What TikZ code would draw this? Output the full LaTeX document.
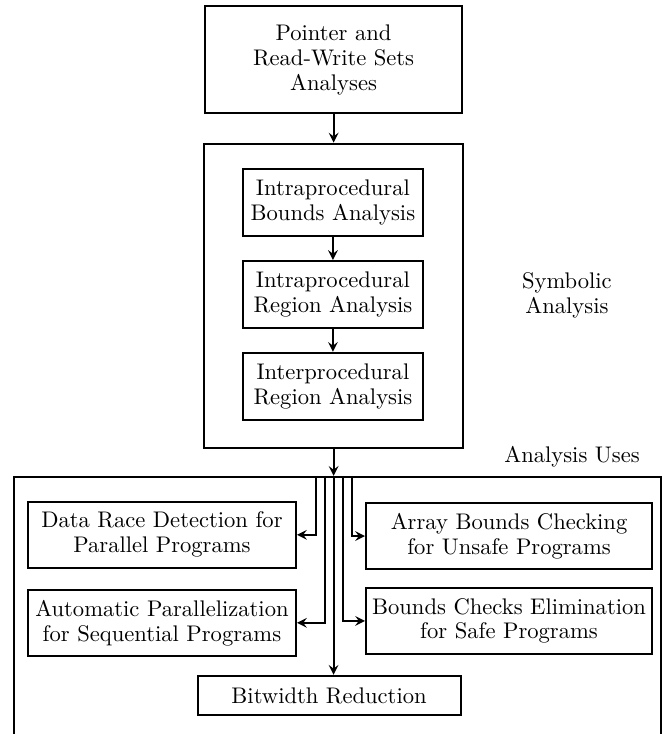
\documentclass[tikz,border=0pt]{standalone}
\usepackage{tikz}
\usetikzlibrary{positioning}

\begin{document}
\begin{tikzpicture}[node distance=1.43cm, >=stealth, line width=0.9pt]
  \tikzstyle{block}=[rectangle, draw, align=center, inner sep=2pt, font=\fontsize{10}{11}\selectfont]
  \tikzstyle{stage}=[block, minimum width=2.79cm, minimum height=1.04cm]
  \tikzstyle{client}=[block, minimum height=1.03cm]
  \tikzstyle{caption}=[align=center, font=\fontsize{10}{11}\selectfont]
  \clip (0,0) rectangle (10.38,-11.42);
  \node[block, minimum width=4.0cm, minimum height=1.67cm] (pointer) at (5.19,-0.93) {Pointer and\\Read-Write Sets\\Analyses};
  \node[block, minimum width=4.03cm, minimum height=4.73cm] (symbolic) at (5.19,-4.6) {};
  \node[stage] (bounds) at (5.18,-3.15) {Intraprocedural\\Bounds Analysis};
  \node[stage, below of=bounds] (intra) {Intraprocedural\\Region Analysis};
  \node[stage, below of=intra] (inter) {Interprocedural\\Region Analysis};
  \node[caption] (symlabel) at (8.82,-4.59) {Symbolic\\Analysis};
  \node[caption] (useslabel) at (8.9,-7.11) {Analysis Uses};
  \node[block, minimum width=10.07cm, minimum height=4.3cm] (uses) at (5.255,-9.57) {};
  \node[client, minimum width=4.17cm] (race) at (2.52,-8.32) {Data Race Detection for\\Parallel Programs};
  \node[client, minimum width=4.17cm] (autopar) at (2.52,-9.69) {Automatic Parallelization\\for Sequential Programs};
  \node[client, minimum width=4.45cm] (array) at (7.92,-8.34) {Array Bounds Checking\\for Unsafe Programs};
  \node[client, minimum width=4.45cm] (elim) at (7.92,-9.66) {Bounds Checks Elimination\\for Safe Programs};
  \node[block, minimum width=4.09cm, minimum height=0.61cm] (bitwidth) at (5.12,-10.82) {Bitwidth Reduction};
  \draw[->] (pointer) -- (symbolic);
  \draw[->] (bounds) -- (intra);
  \draw[->] (intra) -- (inter);
  \coordinate (fork) at (symbolic.south |- uses.north);
  \draw[->] (symbolic.south) -- (fork);
  \draw[->] ([xshift=-2.8mm]fork) |- (race);
  \draw[->] ([xshift=-1.4mm]fork) |- (autopar);
  \draw[->] (fork) -- (fork |- bitwidth.north);
  \draw[->] ([xshift=1.4mm]fork) |- (elim);
  \draw[->] ([xshift=2.8mm]fork) |- (array);
\end{tikzpicture}
\end{document}
